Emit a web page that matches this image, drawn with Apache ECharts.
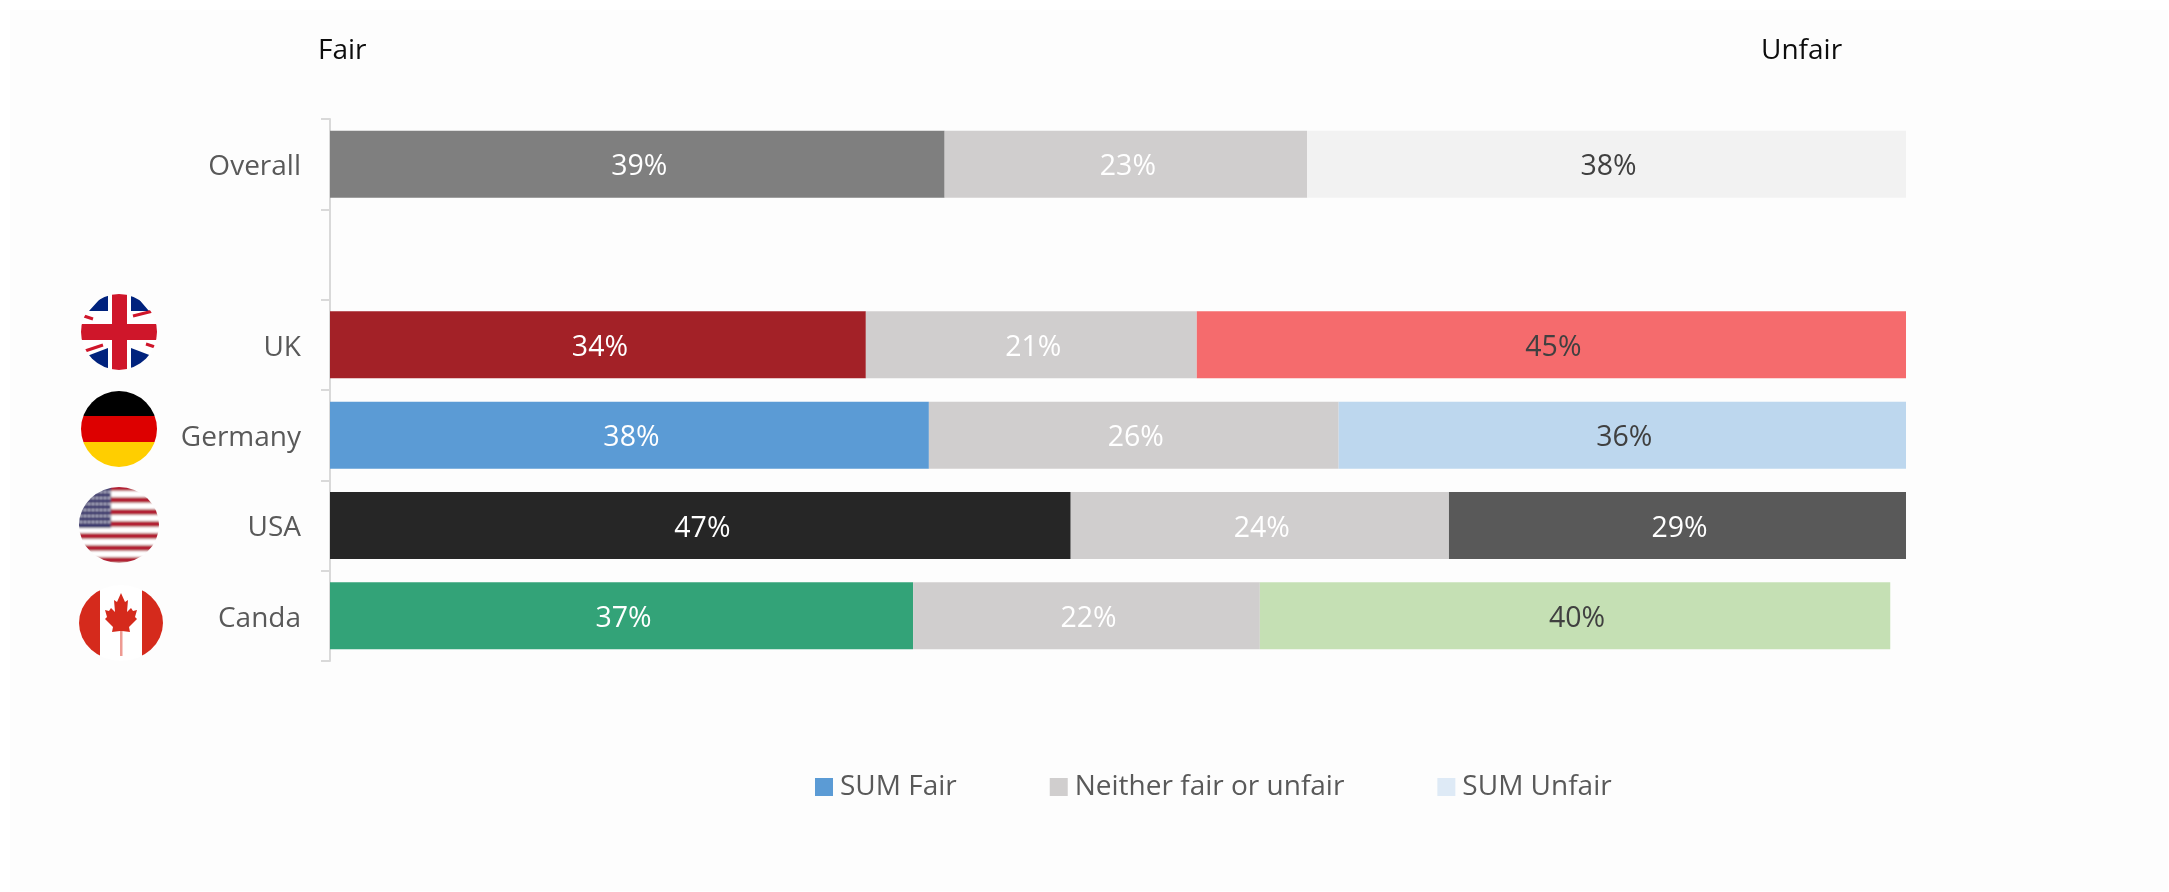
<!DOCTYPE html>
<html>
<head>
<meta charset="utf-8">
<style>html,body{margin:0;padding:0;background:#fff}#c{width:2169px;height:892px}</style>
<script src="https://cdn.jsdelivr.net/npm/echarts@6/dist/echarts.min.js"></script>
</head>
<body>
<div id="c"></div>
<script>
const categories = ['Overall', '', 'UK', 'Germany', 'USA', 'Canda'];
const seriesNames = ['SUM Fair', 'Neither fair or unfair', 'SUM Unfair'];
const fairValues = [39, null, 34, 38, 47, 37];
const neitherValues = [23, null, 21, 26, 24, 22];
const unfairValues = [38, null, 45, 36, 29, 40];
const fairColors = ['#7F7F7F', null, '#A32127', '#5B9BD5', '#262626', '#33A378'];
const neitherColors = ['#D0CECE', null, '#D0CECE', '#D0CECE', '#D0CECE', '#D0CECE'];
const unfairColors = ['#F2F2F2', null, '#F56B6D', '#BDD7EE', '#595959', '#C5E0B4'];
const unfairLabelColors = ['#404040', null, '#404040', '#404040', '#ffffff', '#404040'];
const legendColors = ['#5B9BD5', '#D0CECE', '#DEEAF6'];
const FONT = '"Open Sans"';

function svgUri(w, h, body, blur) {
  const s = `<svg xmlns="http://www.w3.org/2000/svg" width="${w}" height="${h}" viewBox="0 0 ${w} ${h}">` +
    `<defs><clipPath id="k"><ellipse cx="${w/2}" cy="${h/2}" rx="${w/2}" ry="${h/2}"/></clipPath>` +
    `<filter id="b" x="-5%" y="-5%" width="110%" height="110%"><feGaussianBlur stdDeviation="${blur}"/></filter></defs>` +
    `<g clip-path="url(#k)"><g filter="url(#b)">${body}</g></g></svg>`;
  return 'data:image/svg+xml;charset=utf-8,' + encodeURIComponent(s);
}
const flagUK = svgUri(76, 76,
  '<rect x="-4" y="-4" width="84" height="84" fill="#fff"/>' +
  '<path fill="#00247D" d="M27 -4V17H8ZM50 -4V17H68ZM27 54V80L6 62ZM50 54V80L71 62Z"/>' +
  '<path d="M3 22L12 25M52 22L72 17M4 57L22 51M65 50L74 53" stroke="#CF142B" stroke-width="3"/>' +
  '<rect x="31" y="-4" width="15" height="84" fill="#CF142B"/>' +
  '<rect x="-4" y="30" width="84" height="16" fill="#CF142B"/>', 0.6);
const flagDE = svgUri(76, 76,
  '<rect x="-4" y="-4" width="84" height="29" fill="#000"/>' +
  '<rect x="-4" y="25" width="84" height="26" fill="#DD0000"/>' +
  '<rect x="-4" y="51" width="84" height="30" fill="#FFCE00"/>', 0.6);
let stripes = '<rect x="-4" y="-4" width="88" height="84" fill="#fff"/>';
[-2, 10, 22, 34, 46, 58, 70].forEach(y => {
  stripes += `<rect x="-4" y="${y}" width="88" height="6" fill="#B22234"/>`;
});
stripes += '<rect x="-4" y="-4" width="36" height="45" fill="#3C3B6E"/>';
[5, 11, 17, 23, 29, 35].forEach(y => {
  stripes += `<path d="M1 ${y}H31" stroke="#D8D8E8" stroke-width="1.8" stroke-dasharray="2 2"/>`;
});
const flagUS = svgUri(80, 76, stripes, 0.8);
const flagCA = svgUri(84, 76,
  '<rect x="-4" y="-4" width="92" height="84" fill="#fff"/>' +
  '<rect x="-4" y="-4" width="25" height="84" fill="#D52B1E"/>' +
  '<rect x="63" y="-4" width="25" height="84" fill="#D52B1E"/>' +
  '<rect x="41" y="44" width="2.5" height="27" fill="#EE9A92"/>' +
  '<path fill="#D52B1E" d="M42 8L46 17L49 15L48 27L52 23L54 26L58 25L56 32L58 34L50 42L51 47L43 46L41 46L33 47L34 42L26 34L28 32L26 25L30 26L32 23L36 27L35 15L38 17Z"/>', 0.7);

function seriesFor(idx, values, colors, labelColors) {
  return {
    name: seriesNames[idx],
    type: 'bar',
    stack: 'total',
    barWidth: 67,
    itemStyle: { color: legendColors[idx] },
    label: {
      show: true,
      position: 'inside',
      offset: [2, 3],
      formatter: '{c}%',
      fontFamily: FONT,
      fontSize: 28.5,
      color: '#ffffff'
    },
    data: values.map((v, i) => v === null ? null : ({
      value: v,
      itemStyle: { color: colors[i] },
      label: { color: labelColors ? labelColors[i] : '#ffffff' }
    }))
  };
}

const chart = echarts.init(document.getElementById('c'), null, { renderer: 'canvas' });
chart.setOption({
  animation: false,
  backgroundColor: '#ffffff',
  textStyle: { fontFamily: FONT },
  grid: { left: 330, top: 119, width: 1576, height: 542, containLabel: false },
  xAxis: { type: 'value', min: 0, max: 100, show: false },
  yAxis: {
    type: 'category',
    inverse: true,
    data: categories,
    axisLine: { show: true, lineStyle: { color: '#D9D9D9', width: 2 } },
    axisTick: { show: true, length: 9, lineStyle: { color: '#D9D9D9', width: 2 } },
    axisLabel: { color: '#595959', fontFamily: FONT, fontSize: 28, margin: 29, verticalAlign: 'top', lineHeight: 6 }
  },
  legend: {
    left: 815,
    top: 773,
    padding: 0,
    icon: 'rect',
    itemWidth: 18,
    itemHeight: 18,
    itemGap: 93,
    textStyle: { color: '#595959', fontFamily: FONT, fontSize: 28, padding: [0, 0, 0, 2] },
    data: seriesNames
  },
  series: [
    seriesFor(0, fairValues, fairColors),
    seriesFor(1, neitherValues, neitherColors),
    seriesFor(2, unfairValues, unfairColors, unfairLabelColors)
  ],
  graphic: [
    { type: 'rect', z: -10, silent: true, shape: { x: 10, y: 10, width: 2158, height: 881 }, style: { fill: '#FDFDFD' } },
    { type: 'text', left: 318, top: 37, style: { text: 'Fair', fontFamily: FONT, fontSize: 28, fill: '#0D0D0D' } },
    { type: 'text', left: 1761, top: 37, style: { text: 'Unfair', fontFamily: FONT, fontSize: 28, fill: '#0D0D0D' } },
    { type: 'image', left: 81, top: 294, style: { image: flagUK, width: 76, height: 76 } },
    { type: 'image', left: 81, top: 391, style: { image: flagDE, width: 76, height: 76 } },
    { type: 'image', left: 79, top: 487, style: { image: flagUS, width: 80, height: 76 } },
    { type: 'image', left: 79, top: 585, style: { image: flagCA, width: 84, height: 76 } }
  ]
});
</script>
</body>
</html>
